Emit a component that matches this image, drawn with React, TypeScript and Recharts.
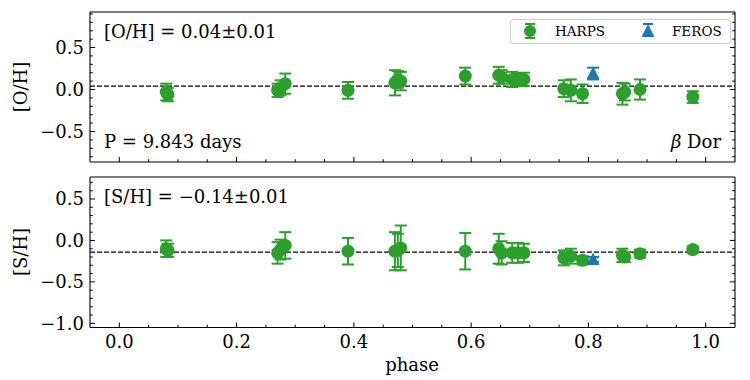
import { ScatterChart, Scatter, XAxis, YAxis, ErrorBar, ReferenceLine } from "recharts";

const FONT = '"DejaVu Serif", serif';
const GREEN = "#2ca02c";
const BLUE = "#1f77b4";

// HARPS measurements (phase, abundance, error)
const harpsPhase = [0.08, 0.083, 0.27, 0.275, 0.283, 0.39, 0.47, 0.475, 0.48, 0.59, 0.647, 0.652, 0.67, 0.68, 0.69, 0.758, 0.77, 0.79, 0.858, 0.862, 0.888, 0.978];
const harpsOH = [-0.03, -0.06, -0.01, 0.02, 0.07, -0.01, 0.08, 0.12, 0.1, 0.16, 0.17, 0.15, 0.12, 0.12, 0.12, 0.01, -0.01, -0.05, -0.05, -0.03, 0.0, -0.09];
const harpsOHErr = [0.1, 0.08, 0.08, 0.09, 0.12, 0.1, 0.15, 0.1, 0.11, 0.1, 0.1, 0.08, 0.09, 0.07, 0.08, 0.1, 0.13, 0.11, 0.13, 0.1, 0.12, 0.07];
const harpsSH = [-0.1, -0.12, -0.15, -0.11, -0.06, -0.13, -0.13, -0.12, -0.09, -0.13, -0.1, -0.15, -0.15, -0.15, -0.15, -0.21, -0.19, -0.24, -0.18, -0.2, -0.16, -0.11];
const harpsSHErr = [0.1, 0.08, 0.13, 0.12, 0.16, 0.16, 0.23, 0.2, 0.27, 0.22, 0.18, 0.14, 0.12, 0.12, 0.11, 0.09, 0.09, 0.05, 0.08, 0.06, 0.05, 0.04];

// FEROS measurement
const ferosPhase = [0.808];
const ferosOH = [0.19];
const ferosOHErr = [0.07];
const ferosSH = [-0.23];
const ferosSHErr = [0.03];

const meanOH = 0.04;
const meanSH = -0.14;

const xMajor = [0, 0.2, 0.4, 0.6, 0.8, 1.0];
const xTicks = Array.from({ length: 21 }, (_, i) => +(i * 0.05).toFixed(2));
const yTicksTop = Array.from({ length: 18 }, (_, i) => +(-0.8 + i * 0.1).toFixed(1));
const yTicksBottom = Array.from({ length: 18 }, (_, i) => +(-1.0 + i * 0.1).toFixed(1));

const harpsO = harpsPhase.map((p, i) => ({ x: p, y: harpsOH[i], err: harpsOHErr[i] }));
const harpsS = harpsPhase.map((p, i) => ({ x: p, y: harpsSH[i], err: harpsSHErr[i] }));
const ferosO = ferosPhase.map((p, i) => ({ x: p, y: ferosOH[i], err: ferosOHErr[i] }));
const ferosS = ferosPhase.map((p, i) => ({ x: p, y: ferosSH[i], err: ferosSHErr[i] }));

const fmt = (v: number) => {
  const s = Math.abs(v) < 1e-9 ? "0.0" : v.toFixed(1);
  return s.replace("-", "\u2212");
};
const near = (v: number, step: number) => Math.abs(v / step - Math.round(v / step)) < 1e-6;

function XTick(side: "top" | "bottom", labels: boolean) {
  return (props: any) => {
    const { x, y, payload } = props;
    const v = payload.value;
    const major = xMajor.some((m) => Math.abs(m - v) < 1e-6);
    const len = major ? 5 : 2.8;
    const dir = side === "bottom" ? -1 : 1;
    return (
      <g>
        <line x1={x} x2={x} y1={y} y2={y + dir * len} stroke="#000" strokeWidth={1} />
        {labels && major && (
          <text x={x} y={y + 14} textAnchor="middle" dominantBaseline="central" fontFamily={FONT} fontSize={18} fill="#000">
            {v.toFixed(1)}
          </text>
        )}
      </g>
    );
  };
}

function YTick(side: "left" | "right") {
  return (props: any) => {
    const { x, y, payload } = props;
    const v = payload.value;
    const major = near(v, 0.5);
    const len = major ? 5 : 2.8;
    const dir = side === "left" ? 1 : -1;
    return (
      <g>
        <line x1={x} x2={x + dir * len} y1={y} y2={y} stroke="#000" strokeWidth={1} />
        {side === "left" && major && (
          <text x={x - 6} y={y} textAnchor="end" dominantBaseline="central" fontFamily={FONT} fontSize={18} fill="#000">
            {fmt(v)}
          </text>
        )}
      </g>
    );
  };
}

const circleShape = (p: any) => <circle cx={p.cx} cy={p.cy} r={6.5} fill={GREEN} />;
const triangleShape = (p: any) => (
  <path d={`M${p.cx},${p.cy - 7} L${p.cx + 6.5},${p.cy + 5.5} L${p.cx - 6.5},${p.cy + 5.5} Z`} fill={BLUE} />
);

interface PanelProps {
  height: number;
  margin: { top: number; right: number; bottom: number; left: number };
  domain: [number, number];
  yTicks: number[];
  harps: { x: number; y: number; err: number }[];
  feros: { x: number; y: number; err: number }[];
  mean: number;
  xLabels: boolean;
}

function Panel({ height, margin, domain, yTicks, harps, feros, mean, xLabels }: PanelProps) {
  const axisLine = { stroke: "#000", strokeWidth: 1.1 };
  return (
    <ScatterChart width={750} height={height} margin={margin}>
      <XAxis
        xAxisId="b"
        dataKey="x"
        type="number"
        domain={[-0.05, 1.05]}
        allowDataOverflow
        ticks={xTicks}
        interval={0}
        height={1}
        tickSize={0}
        tickMargin={0}
        tickLine={false}
        axisLine={axisLine}
        tick={XTick("bottom", xLabels)}
      />
      <XAxis
        xAxisId="t"
        orientation="top"
        type="number"
        domain={[-0.05, 1.05]}
        allowDataOverflow
        ticks={xTicks}
        interval={0}
        height={1}
        tickSize={0}
        tickMargin={0}
        tickLine={false}
        axisLine={axisLine}
        tick={XTick("top", false)}
      />
      <YAxis
        yAxisId="l"
        dataKey="y"
        type="number"
        domain={domain}
        allowDataOverflow
        ticks={yTicks}
        interval={0}
        width={1}
        tickSize={0}
        tickMargin={0}
        tickLine={false}
        axisLine={axisLine}
        tick={YTick("left")}
      />
      <YAxis
        yAxisId="r"
        orientation="right"
        type="number"
        domain={domain}
        allowDataOverflow
        ticks={yTicks}
        interval={0}
        width={1}
        tickSize={0}
        tickMargin={0}
        tickLine={false}
        axisLine={axisLine}
        tick={YTick("right")}
      />
      <ReferenceLine xAxisId="b" yAxisId="l" y={mean} stroke="#000" strokeWidth={1.3} strokeDasharray="5 2" />
      <Scatter xAxisId="b" yAxisId="l" data={harps} shape={circleShape} isAnimationActive={false}>
        <ErrorBar dataKey="err" direction="y" width={6} stroke={GREEN} strokeWidth={2} />
      </Scatter>
      <Scatter xAxisId="b" yAxisId="l" data={feros} shape={triangleShape} isAnimationActive={false}>
        <ErrorBar dataKey="err" direction="y" width={6} stroke={BLUE} strokeWidth={2} />
      </Scatter>
    </ScatterChart>
  );
}

export default function App() {
  const text = { fontFamily: FONT, fill: "#000" };
  return (
    <div style={{ position: "absolute", left: 0, top: 0, width: 750, height: 380, background: "#fff" }}>
      <div style={{ position: "absolute", left: 0, top: 0 }}>
        <Panel
          height={172}
          margin={{ top: 11, right: 14, bottom: 9, left: 89 }}
          domain={[-0.863, 0.923]}
          yTicks={yTicksTop}
          harps={harpsO}
          feros={ferosO}
          mean={meanOH}
          xLabels={false}
        />
      </div>
      <div style={{ position: "absolute", left: 0, top: 172 }}>
        <Panel
          height={208}
          margin={{ top: 4, right: 14, bottom: 51.5, left: 89 }}
          domain={[-1.05, 0.765]}
          yTicks={yTicksBottom}
          harps={harpsS}
          feros={ferosS}
          mean={meanSH}
          xLabels={true}
        />
      </div>
      <svg width={750} height={380} style={{ position: "absolute", left: 0, top: 0, pointerEvents: "none" }}>
        <text x={104} y={31} fontSize={18} dominantBaseline="central" {...text}>[O/H] = 0.04±0.01</text>
        <text x={104} y={141} fontSize={18} dominantBaseline="central" {...text}>P = 9.843 days</text>
        <text x={721} y={141} fontSize={18} dominantBaseline="central" textAnchor="end" {...text}>
          <tspan fontStyle="italic">β</tspan> Dor
        </text>
        <text x={104} y={196} fontSize={18} dominantBaseline="central" {...text}>[S/H] = −0.14±0.01</text>
        <text x={412} y={364} fontSize={18} dominantBaseline="central" textAnchor="middle" {...text}>phase</text>
        <text x={20} y={87} fontSize={18} dominantBaseline="central" textAnchor="middle" transform="rotate(-90 20 87)" {...text}>[O/H]</text>
        <text x={20} y={252} fontSize={18} dominantBaseline="central" textAnchor="middle" transform="rotate(-90 20 252)" {...text}>[S/H]</text>

        {/* legend */}
        <rect x={510.5} y={19.5} width={220} height={24} rx={3} fill="#fff" fillOpacity={0.8} stroke="#ccc" />
        <line x1={530} x2={530} y1={24} y2={38} stroke={GREEN} strokeWidth={2} />
        <line x1={525} x2={535} y1={24} y2={24} stroke={GREEN} strokeWidth={2} />
        <line x1={525} x2={535} y1={38} y2={38} stroke={GREEN} strokeWidth={2} />
        <circle cx={530} cy={31} r={6} fill={GREEN} />
        <text x={555} y={31} fontSize={13.5} dominantBaseline="central" {...text}>HARPS</text>
        <line x1={643} x2={653} y1={24} y2={24} stroke={BLUE} strokeWidth={2} />
        <path d="M648,24 L654.5,37 L641.5,37 Z" fill={BLUE} />
        <text x={672} y={31} fontSize={13.5} dominantBaseline="central" {...text}>FEROS</text>
      </svg>
    </div>
  );
}
